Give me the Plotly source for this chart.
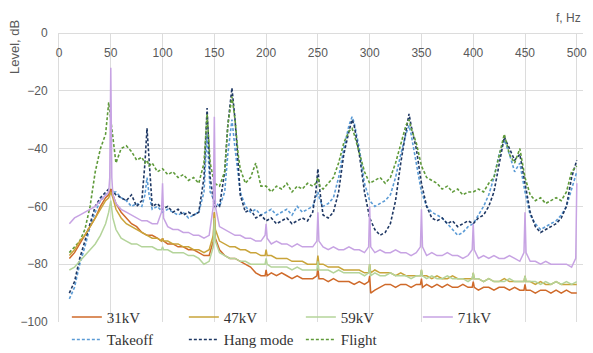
import plotly.graph_objects as go

# ---------------- data ----------------
F_KV = [10, 15, 20, 25, 30, 35, 40, 45,
        48, 49, 50, 51, 52,
        55, 60, 65, 70, 75, 80, 85, 90, 95,
        99, 100, 101,
        105, 110, 115, 120, 125, 130, 135, 140, 145,
        149, 150, 151,
        155, 160, 165, 170, 175, 180, 185, 190, 195,
        199, 200, 201,
        205, 210, 215, 220, 225, 230, 235, 240, 245,
        249, 250, 251,
        255, 260, 265, 270, 275, 280, 285, 290, 295,
        299, 300, 301,
        305, 310, 315, 320, 325, 330, 335, 340, 345,
        349, 350, 351,
        355, 360, 365, 370, 375, 380, 385, 390, 395,
        399, 400, 401,
        405, 410, 415, 420, 425, 430, 435, 440, 445,
        449, 450, 451,
        455, 460, 465, 470, 475, 480, 485, 490, 495,
        499, 500]

KV31 = [-78, -76, -73, -70, -67, -64, -60, -57,
        -56, -55, -54, -55, -56,
        -59, -62, -64, -66, -67, -69, -70, -70, -71,
        -72, -71, -72,
        -73, -73, -74, -74, -75, -75, -76, -77, -77,
        -72, -62, -71,
        -75, -77, -78, -78, -79, -80, -81, -83, -84,
        -84, -82, -84,
        -83, -84, -83, -84, -85, -84, -85, -85, -85,
        -84, -81, -85,
        -85, -86, -85, -86, -86, -86, -87, -86, -87,
        -86, -84, -90,
        -89, -88, -87, -87, -88, -87, -87, -88, -87,
        -87, -85, -88,
        -87, -88, -87, -88, -87, -88, -88, -87, -88,
        -88, -86, -88,
        -89, -88, -88, -89, -88, -88, -89, -88, -89,
        -89, -87, -89,
        -89, -90, -89, -89, -90, -89, -90, -89, -90,
        -90, -90]

KV47 = [-77, -75, -72, -70, -67, -64, -61, -58,
        -57, -56, -55, -56, -57,
        -61, -64, -66, -67, -68, -69, -70, -71, -71,
        -72, -71, -72,
        -72, -73, -73, -74, -74, -75, -75, -76, -75,
        -70, -62, -68,
        -72, -73, -74, -74, -75, -75, -76, -76, -77,
        -77, -75, -77,
        -77, -78, -78, -78, -79, -79, -79, -80, -80,
        -80, -77, -80,
        -80, -81, -81, -81, -82, -82, -82, -82, -83,
        -83, -80, -83,
        -82, -83, -83, -83, -84, -83, -84, -84, -84,
        -84, -82, -84,
        -84, -85, -84, -85, -85, -84, -85, -85, -85,
        -85, -83, -85,
        -85, -86, -85, -86, -86, -85, -86, -86, -86,
        -86, -84, -86,
        -86, -87, -86, -87, -87, -86, -87, -87, -87,
        -87, -87]

KV59 = [-82, -81, -79, -77, -75, -73, -70, -66,
        -62, -60, -58, -61, -64,
        -68, -71, -72, -73, -73, -74, -74, -74, -75,
        -75, -74, -75,
        -75, -76, -76, -76, -77, -77, -78, -80, -79,
        -74, -64, -72,
        -76, -77, -78, -78, -79, -79, -80, -80, -80,
        -80, -78, -80,
        -81, -81, -81, -81, -82, -81, -82, -82, -82,
        -82, -79, -82,
        -82, -82, -83, -82, -83, -83, -83, -83, -84,
        -83, -80, -84,
        -83, -84, -84, -83, -84, -84, -84, -85, -84,
        -84, -82, -84,
        -85, -84, -85, -85, -84, -85, -85, -85, -86,
        -85, -83, -85,
        -85, -86, -85, -86, -86, -86, -85, -86, -86,
        -86, -84, -86,
        -86, -86, -87, -86, -87, -86, -87, -86, -87,
        -86, -86]

KV71 = [-66, -64, -63, -62, -61, -60, -58, -56,
        -55, -50, -12, -50, -56,
        -59, -61, -62, -63, -64, -65, -65, -66, -66,
        -62, -52, -64,
        -67, -68, -68, -69, -69, -70, -70, -71, -70,
        -60, -29, -60,
        -67, -68, -69, -70, -70, -71, -71, -72, -72,
        -70, -66, -71,
        -73, -72, -73, -73, -74, -73, -74, -74, -74,
        -72, -62, -72,
        -74, -75, -74, -75, -75, -74, -75, -75, -76,
        -74, -60, -74,
        -76, -75, -76, -76, -75, -76, -76, -77, -76,
        -74, -61, -74,
        -77, -76, -77, -77, -76, -77, -77, -78, -77,
        -75, -66, -75,
        -78, -77, -78, -77, -78, -78, -77, -78, -79,
        -76, -62, -76,
        -79, -79, -80, -79, -80, -80, -80, -80, -81,
        -78, -52]

F_DASH = [10, 15, 20, 25, 30, 35, 40, 45, 48, 50, 55, 60, 65, 70, 75, 80,
          83, 85, 87,
          90, 95, 100, 105, 110, 115, 120, 125, 130, 135,
          140, 143, 146,
          150, 155, 160, 163, 167, 170, 173, 175, 180, 185, 190, 195,
          200, 205, 210, 215, 220, 225, 230, 235, 240, 245,
          248, 250, 252,
          255, 260, 265, 270, 275, 280, 283, 285, 290, 295,
          300, 305, 310, 315, 320, 325, 330, 335, 338, 340, 345,
          350, 355, 360, 365, 370, 375, 380, 385, 390, 395,
          400, 405, 410, 415, 420, 425, 430, 435, 440, 445,
          450, 455, 460, 465, 470, 475, 480, 485, 490, 495, 500]

TAKEOFF = [-92, -88, -80, -74, -67, -62, -58, -56, -55, -55, -55, -57, -58, -60, -59, -60,
           -56, -50, -56,
           -61, -60, -62, -61, -62, -63, -62, -64, -63, -62,
           -55, -35, -55,
           -58, -60, -55, -42, -30, -40, -50, -55, -60, -62, -61, -63,
           -62, -61, -63, -62, -61, -63, -60, -62, -61, -60,
           -57, -55, -58,
           -60, -59, -57, -50, -40, -32, -29, -31, -40, -52,
           -58, -60, -59, -58, -56, -50, -42, -35, -32, -35, -45,
           -55, -60, -62, -63, -64, -66, -68, -70, -69, -67,
           -66, -63, -60, -56, -50, -42, -37, -42, -48, -45,
           -55, -63, -66, -68, -67, -66, -65, -63, -60, -54, -48]

HANG = [-90, -86, -78, -72, -66, -60, -57, -55, -54, -54, -56, -57, -58, -56, -60, -58,
        -45, -33, -45,
        -60, -59, -61, -60, -62, -61, -63, -62, -63, -62,
        -50, -26, -50,
        -60, -60, -48, -32, -19, -30, -45, -56, -62, -61, -64, -63,
        -65, -64, -66, -65, -64, -66, -65, -64, -65, -62,
        -55, -47, -55,
        -63, -64, -62, -55, -42, -34, -30, -32, -42, -55,
        -64, -68, -70, -69, -66, -58, -45, -34, -28, -32, -40,
        -52, -60, -64, -65, -64, -66, -65, -67, -66, -65,
        -66, -64, -63, -60, -55, -45, -36, -40, -44, -42,
        -52, -62, -67, -69, -68, -67, -66, -64, -60, -50, -44]

FLIGHT = [-76, -74, -72, -68, -60, -48, -40, -35, -24, -30, -45, -40, -39, -41, -44, -43,
          -45, -44, -46,
          -45, -48, -47, -49, -48, -50, -49, -51, -50, -52,
          -45, -28, -45,
          -52, -53, -48, -32, -22, -30, -42, -47, -52, -50, -45, -53,
          -53, -55, -53, -54, -52, -55, -53, -54, -52, -53,
          -52, -50, -53,
          -54, -52, -50, -45, -38, -34, -33, -35, -42, -48,
          -52, -51, -50, -52, -50, -45, -38, -32, -30, -33, -38,
          -46, -50, -51, -52, -54, -53, -55, -54, -56, -55,
          -55, -54, -55, -52, -50, -42, -35, -42, -45, -40,
          -50, -56, -58, -57, -59, -58, -57, -58, -55, -48, -46]

X_TICKS = [0, 50, 100, 150, 200, 250, 300, 350, 400, 450, 500]
Y_TICKS = [0, -20, -40, -60, -80, -100]

for s in (KV31, KV47, KV59, KV71):
    assert len(s) == len(F_KV)
for s in (TAKEOFF, HANG, FLIGHT):
    assert len(s) == len(F_DASH)

# ---------------- figure ----------------
fig = go.Figure()

dashed = [
    ("Takeoff", TAKEOFF, "#5b9bd5", 5),
    ("Hang mode", HANG, "#1f3864", 6),
    ("Flight", FLIGHT, "#5f9a3a", 7),
]
solid = [
    ("31kV", KV31, "#cf6a2a", 1),
    ("47kV", KV47, "#c9a43a", 2),
    ("59kV", KV59, "#b4d49a", 3),
    ("71kV", KV71, "#c7a3e3", 4),
]
for name, ys, col, rank in dashed:
    fig.add_trace(go.Scatter(x=F_DASH, y=ys, name=name, mode="lines",
                             line=dict(color=col, width=1.6, dash="3px,2px"),
                             legendrank=rank))
for name, ys, col, rank in solid:
    fig.add_trace(go.Scatter(x=F_KV, y=ys, name=name, mode="lines",
                             line=dict(color=col, width=1.5),
                             legendrank=rank))

tickfont = dict(family="Liberation Sans, Arial, sans-serif", size=12, color="#595959")
grid = "#dcdcdc"

fig.update_layout(
    width=593, height=353,
    margin=dict(l=59, r=10, t=33, b=31, autoexpand=False),
    paper_bgcolor="white", plot_bgcolor="white",
    showlegend=True,
    legend=dict(orientation="h", x=0.015, xanchor="left",
                yref="container", y=0.148, yanchor="top",
                entrywidth=72, bgcolor="rgba(0,0,0,0)",
                font=dict(family="Liberation Serif, Times New Roman, serif", size=15, color="#333333"),
                itemwidth=30, tracegroupgap=0),
    xaxis=dict(range=[0, 506], side="bottom", anchor="free", position=1.0,
               tickvals=X_TICKS, ticklabelstandoff=9,
               showgrid=True, gridcolor=grid, gridwidth=1,
               zeroline=False, showline=True, linecolor=grid, linewidth=1,
               ticks="", tickfont=tickfont),
    yaxis=dict(range=[-100, 0], tickvals=Y_TICKS,
               showgrid=True, gridcolor=grid, gridwidth=1,
               zeroline=False, showline=True, linecolor=grid, linewidth=1,
               ticks="", ticklabelstandoff=8,
               tickfont=tickfont),
    annotations=[
        dict(text="f, Hz", xref="paper", yref="paper", x=1.0, y=1.0,
             xanchor="right", yanchor="bottom", yshift=6, showarrow=False,
             font=tickfont),
        dict(text="Level, dB", xref="paper", yref="paper", x=0, y=1.0,
             xanchor="center", yanchor="middle", xshift=-45, yshift=-14, textangle=-90,
             showarrow=False, font=dict(family="Liberation Sans, Arial, sans-serif",
                                        size=13, color="#595959")),
    ],
)

fig.write_html("out.html")
